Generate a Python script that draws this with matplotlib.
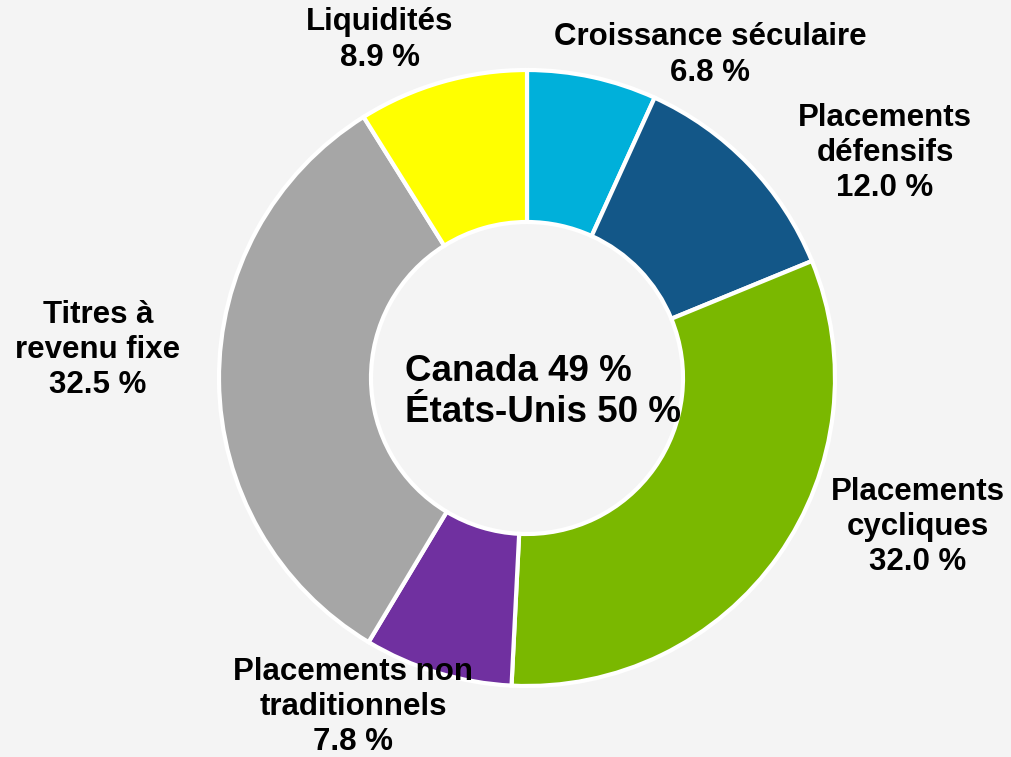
import matplotlib.pyplot as plt

labels = ['Croissance séculaire', 'Placements\ndéfensifs', 'Placements\ncycliques',
          'Placements non\ntraditionnels', 'Titres à\nrevenu fixe', 'Liquidités']
values = [6.8, 12.0, 32.0, 7.8, 32.5, 8.9]
colors = ['#00B0DA', '#135788', '#7AB800', '#7030A0', '#A6A6A6', '#FFFF00']
center_text = 'Canada 49 %\nÉtats-Unis 50 %'

# label positions in pixel coordinates (x, y from top)
label_pos = [(710, 55), (885, 153), (918, 527), (353, 707), (98, 350), (380, 40)]

plt.rcParams['font.family'] = ['Liberation Sans', 'DejaVu Sans']

W, H = 1011, 757
fig = plt.figure(figsize=(W / 100, H / 100), dpi=100, facecolor='#F4F4F4')
ax = fig.add_axes([0, 0, 1, 1])
ax.set_facecolor('#F4F4F4')

ax.pie(values, colors=colors, startangle=90, counterclock=False,
       center=(527, H - 378), radius=308,
       wedgeprops=dict(width=152, edgecolor='white', linewidth=3),
       frame=True)
ax.set_xlim(0, W)
ax.set_ylim(0, H)
ax.set_aspect('equal')
ax.axis('off')

for lab, val, (x, y) in zip(labels, values, label_pos):
    ax.text(x, H - y, f'{lab}\n{val:.1f} %', ha='center', va='center',
            fontsize=22.5, fontweight='bold', color='black', linespacing=1.22)

ax.text(405, H - 392, center_text, ha='left', va='center', fontsize=26.5,
        fontweight='bold', linespacing=1.24)

fig.savefig('out.png', dpi=100, facecolor=fig.get_facecolor())
